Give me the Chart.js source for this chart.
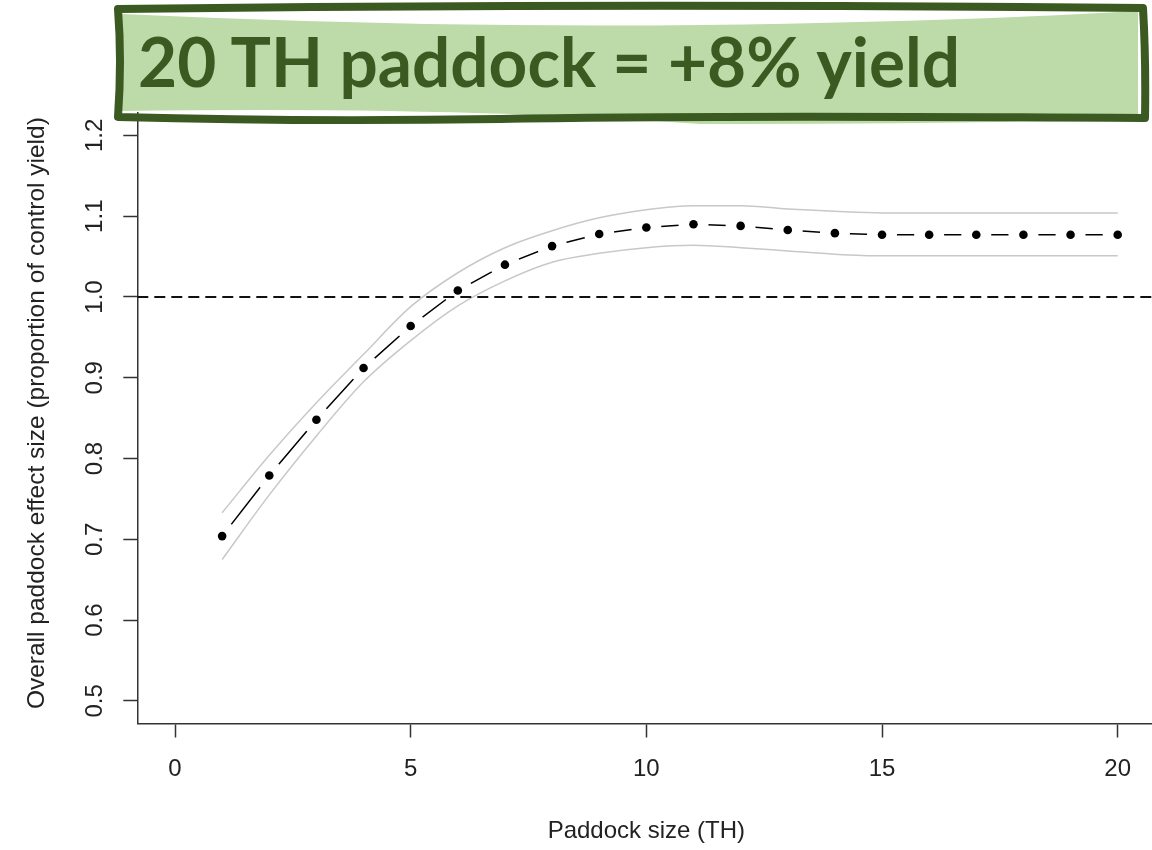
<!DOCTYPE html>
<html>
<head>
<meta charset="utf-8">
<script src="https://cdn.jsdelivr.net/npm/chart.js@4.4.0/dist/chart.umd.min.js"></script>
<style>
  html, body { margin: 0; padding: 0; background: #fff; overflow: hidden; }
  #wrap { position: relative; width: 1160px; height: 850px; }
  #banner { position: absolute; left: 0; top: 0; }
</style>
</head>
<body>
<div id="wrap">
  <canvas id="paddockChart" width="1160" height="850"></canvas>
  <svg id="banner" width="1160" height="140" xmlns="http://www.w3.org/2000/svg">
    <path d="M122,14 Q420,28 700,25 Q950,22 1138,11 L1138,120 Q900,124 700,124 Q450,106 122,111 Z" fill="#bddba9"/>
    <path d="M118,9 Q600,3 1143,8 Q1146,60 1145,118 Q700,115 500,119 Q300,122 118,117 Q122,60 118,9 Z"
          fill="none" stroke="#3b5a22" stroke-width="8" stroke-linejoin="round"/>
    <text x="138" y="87" textLength="822" lengthAdjust="spacingAndGlyphs"
          font-family="Lato, 'Open Sans', sans-serif" font-weight="bold" font-size="68" fill="#3a5a22">20 TH paddock = +8% yield</text>
  </svg>
</div>
<script>
// Paddock size (TH) and fitted effect with its confidence band
const paddockSize = [1, 2, 3, 4, 5, 6, 7, 8, 9, 10, 11, 12, 13, 14, 15, 16, 17, 18, 19, 20];
const effectMean = [0.704, 0.779, 0.848, 0.912, 0.964, 1.008, 1.040, 1.063, 1.078, 1.086,
                    1.090, 1.088, 1.083, 1.079, 1.077, 1.077, 1.077, 1.077, 1.077, 1.077];
const ciUpper = [0.733, 0.804, 0.869, 0.929, 0.988, 1.030, 1.061, 1.082, 1.098, 1.108,
                 1.113, 1.113, 1.109, 1.106, 1.104, 1.104, 1.104, 1.104, 1.104, 1.104];
const ciLower = [0.675, 0.755, 0.828, 0.895, 0.946, 0.989, 1.020, 1.043, 1.054, 1.061,
                 1.064, 1.061, 1.057, 1.053, 1.051, 1.051, 1.051, 1.051, 1.051, 1.051];

const xTicks = [0, 5, 10, 15, 20];
const yTicks = [0.5, 0.6, 0.7, 0.8, 0.9, 1.0, 1.1, 1.2];
const referenceLevel = 1.0;
const xRange = [-0.8, 20.8];
const yRange = [0.472, 1.228];

const xTitle = 'Paddock size (TH)';
const yTitle = 'Overall paddock effect size (proportion of control yield)';

const fontFamily = "'Liberation Sans', Arial, sans-serif";
const inkColor = '#222';

const toPoints = (ys) => paddockSize.map((x, i) => ({ x: x, y: ys[i] }));

// tick labels (y ones rotated, R style) and axis titles, placed with the chart's scales
const textPlugin = {
  id: 'textPlugin',
  afterDraw(chart) {
    const ctx = chart.ctx;
    const xScale = chart.scales.x;
    const yScale = chart.scales.y;
    const ca = chart.chartArea;
    ctx.save();
    ctx.fillStyle = inkColor;
    ctx.textAlign = 'center';
    ctx.textBaseline = 'middle';
    ctx.font = `24px ${fontFamily}`;
    xTicks.forEach(v => {
      ctx.fillText(String(v), xScale.getPixelForValue(v), 769);
    });
    yTicks.forEach(v => {
      ctx.save();
      ctx.translate(95, yScale.getPixelForValue(v));
      ctx.rotate(-Math.PI / 2);
      ctx.fillText(v.toFixed(1), 0, 0);
      ctx.restore();
    });
    ctx.fillText(xTitle, (ca.left + ca.right) / 2, 831);
    ctx.font = `24.5px ${fontFamily}`;
    ctx.save();
    ctx.translate(37, (ca.top + ca.bottom) / 2 - 5);
    ctx.rotate(-Math.PI / 2);
    ctx.fillText(yTitle, 0, 0);
    ctx.restore();
    ctx.restore();
  }
};

const ctx = document.getElementById('paddockChart').getContext('2d');

new Chart(ctx, {
  type: 'line',
  data: {
    datasets: [
      {
        // black dots on top
        label: 'points',
        data: toPoints(effectMean),
        showLine: false,
        pointRadius: 4.3,
        pointBackgroundColor: '#000',
        pointBorderWidth: 0,
        order: 0
      },
      {
        label: 'reference',
        data: [{ x: xRange[0], y: referenceLevel }, { x: xRange[1], y: referenceLevel }],
        borderColor: '#111',
        borderWidth: 1.8,
        borderDash: [11, 6],
        pointRadius: 0,
        order: 1
      },
      {
        label: 'upper',
        data: toPoints(ciUpper),
        borderColor: '#c8c8c8',
        borderWidth: 1.5,
        cubicInterpolationMode: 'monotone',
        pointRadius: 0,
        order: 2
      },
      {
        label: 'lower',
        data: toPoints(ciLower),
        borderColor: '#c8c8c8',
        borderWidth: 1.5,
        cubicInterpolationMode: 'monotone',
        pointRadius: 0,
        order: 2
      },
      {
        // connecting segments; white discs leave the gaps round each point
        label: 'mean',
        data: toPoints(effectMean),
        borderColor: '#000',
        borderWidth: 1.5,
        tension: 0,
        pointRadius: 15,
        pointBackgroundColor: '#fff',
        pointBorderWidth: 0,
        order: 5
      }
    ]
  },
  options: {
    responsive: false,
    animation: false,
    events: [],
    layout: {
      autoPadding: false, // the big white discs would otherwise push the plot in
      padding: { top: 112.8, right: 4.6, left: 0, bottom: 0 }
    },
    plugins: {
      legend: { display: false },
      tooltip: { enabled: false }
    },
    scales: {
      x: {
        type: 'linear',
        min: xRange[0],
        max: xRange[1],
        afterBuildTicks: (axis) => { axis.ticks = xTicks.map(v => ({ value: v })); },
        afterFit: (scale) => { scale.height = 126.5; },
        ticks: { display: false, padding: 0 },
        grid: { drawOnChartArea: false, tickLength: 14, tickColor: '#333', tickWidth: 1.5 },
        border: { display: true, color: '#333', width: 1.5 }
      },
      y: {
        type: 'linear',
        min: yRange[0],
        max: yRange[1],
        afterBuildTicks: (axis) => { axis.ticks = yTicks.map(v => ({ value: v })); },
        afterFit: (scale) => { scale.width = 137.3; },
        ticks: { display: false, padding: 0 },
        grid: { drawOnChartArea: false, tickLength: 14, tickColor: '#333', tickWidth: 1.5 },
        border: { display: true, color: '#333', width: 1.5 }
      }
    }
  },
  plugins: [textPlugin]
});
</script>
</body>
</html>
